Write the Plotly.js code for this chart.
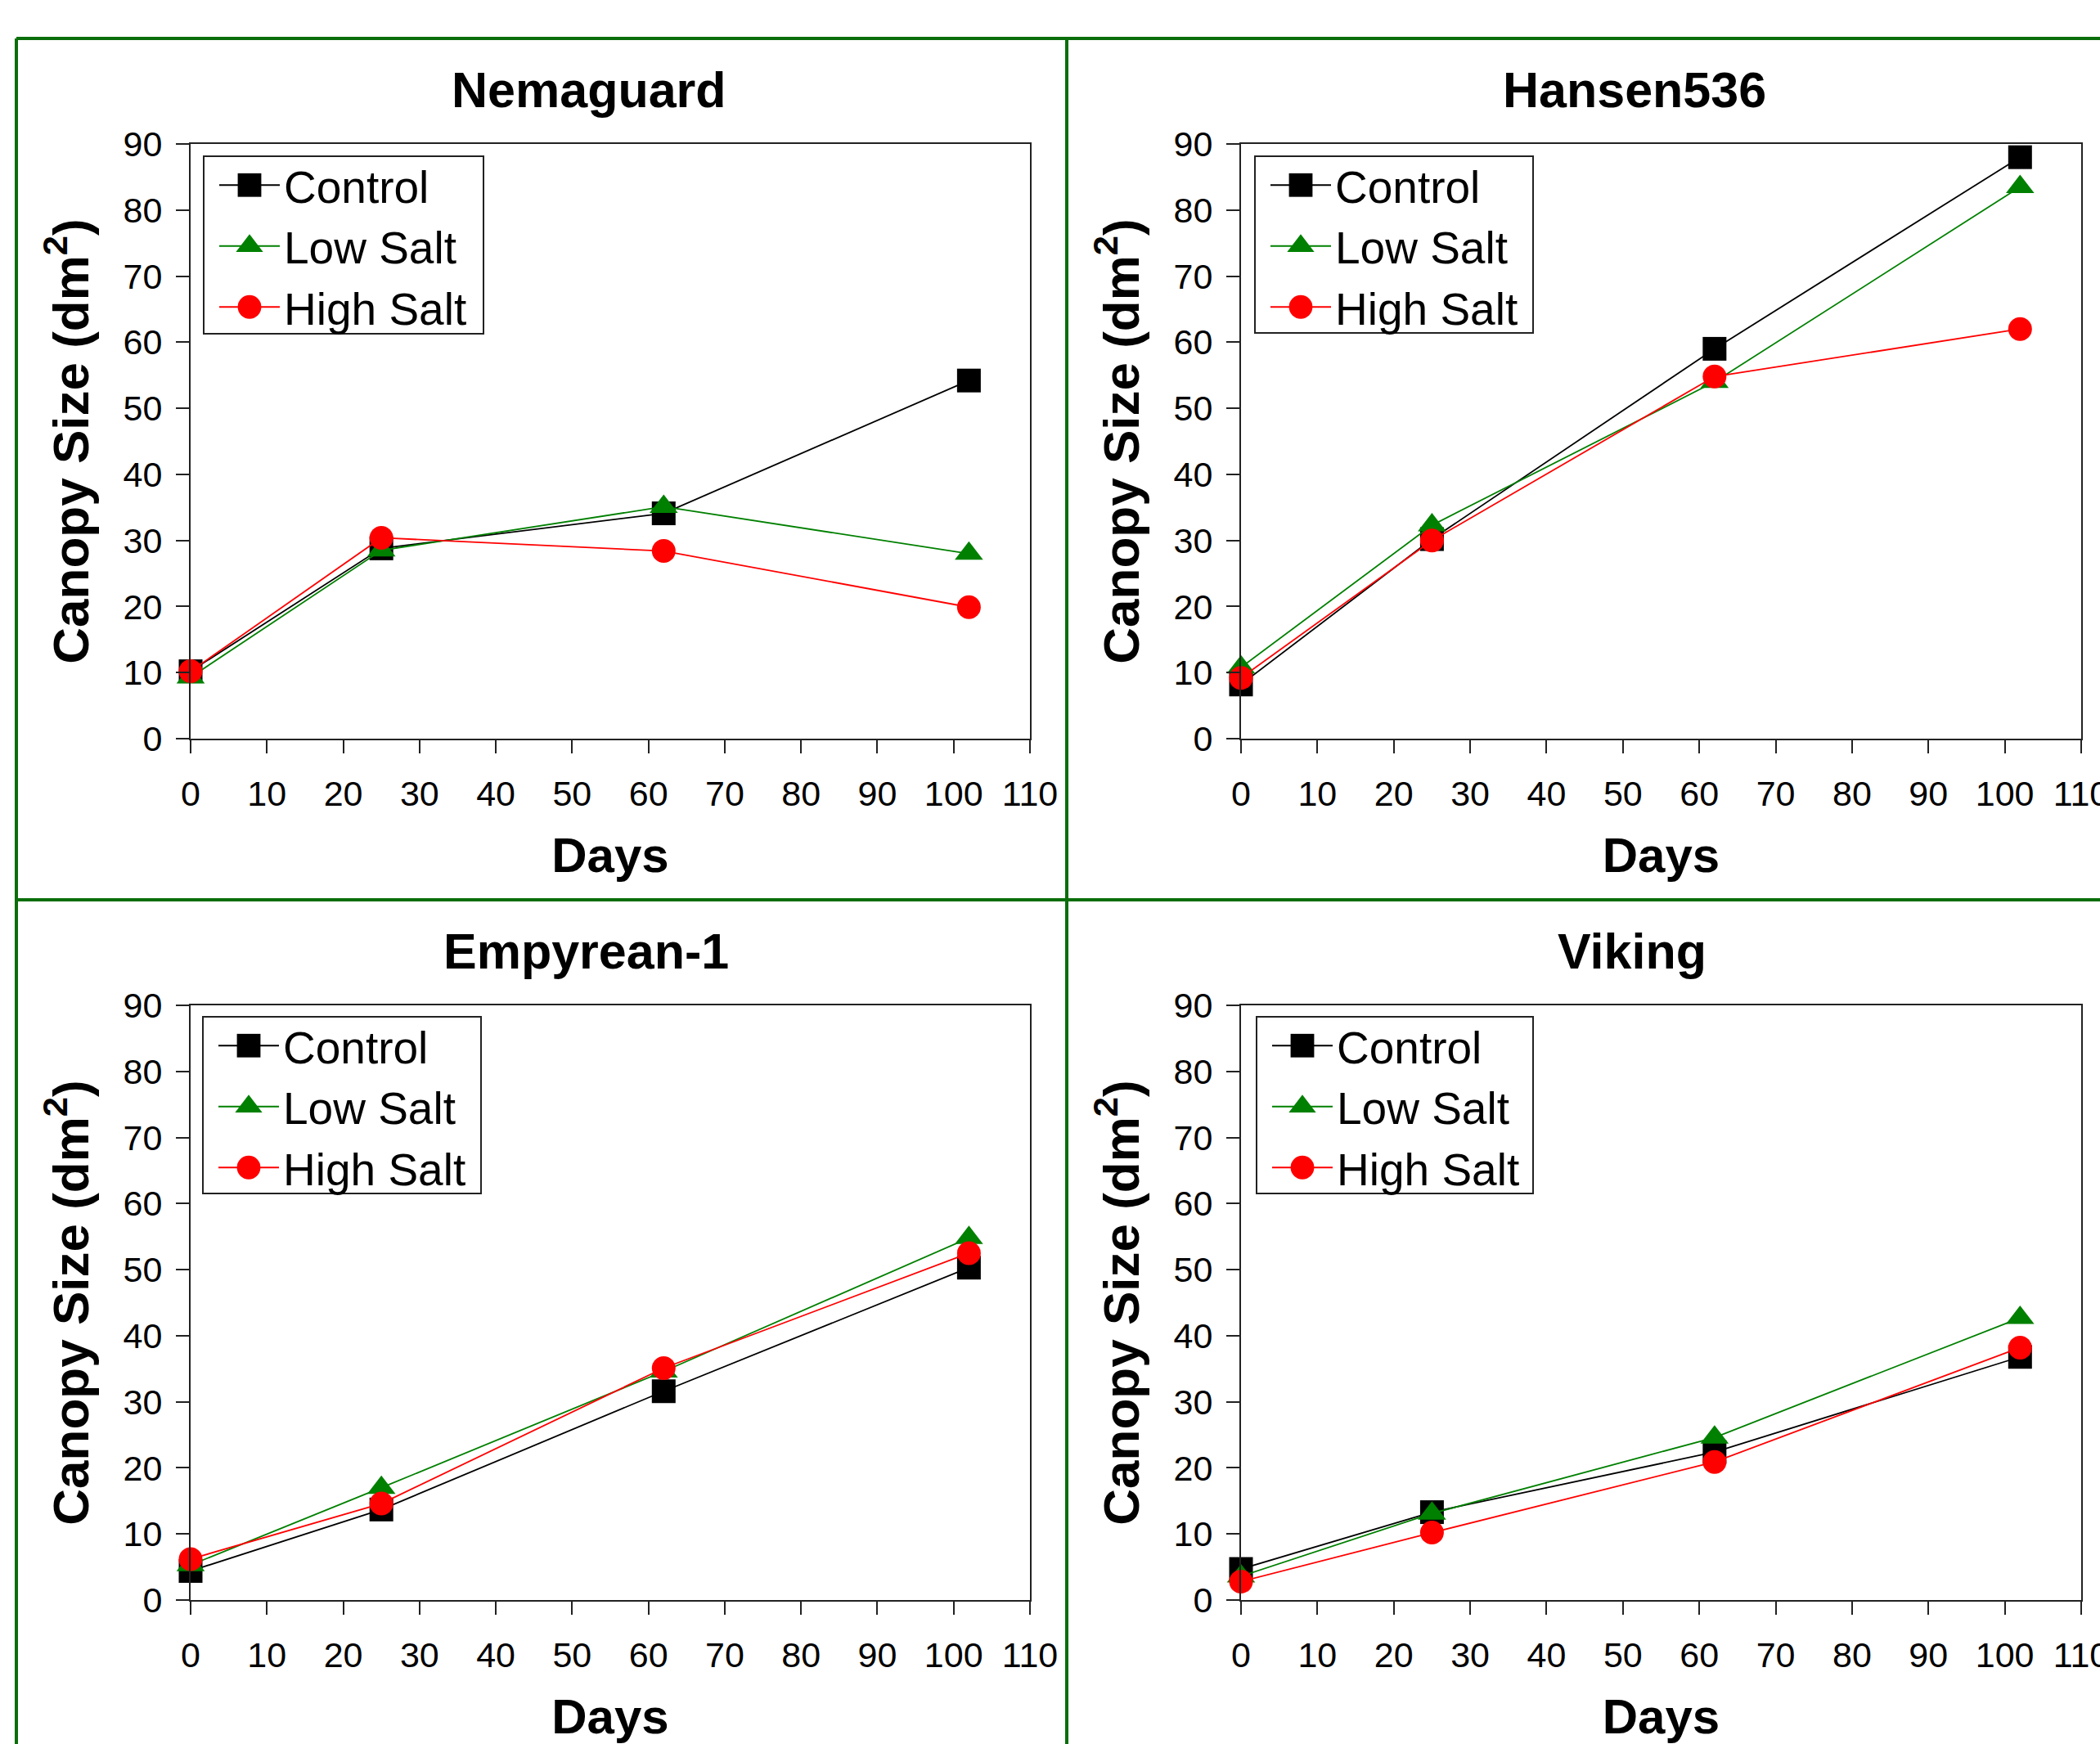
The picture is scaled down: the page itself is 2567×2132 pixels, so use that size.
<!DOCTYPE html>
<html>
<head>
<meta charset="utf-8">
<script src="https://cdn.plot.ly/plotly-3.0.1.min.js"></script>
<style>
html, body { margin: 0; padding: 0; background: #ffffff; }
#chart { width: 2567px; height: 2132px; }
</style>
</head>
<body>
<div id="chart"></div>
<script>
// ---------------- data ----------------
const days = [0, 25, 62, 102];
const panelTitles = ['Nemaguard', 'Hansen536', 'Empyrean-1', 'Viking'];
const seriesNames = ['Control', 'Low Salt', 'High Salt'];

const nemaguardControl  = [10.2, 28.8, 34.1, 54.2];
const nemaguardLowSalt  = [9.3, 28.5, 35.1, 28.0];
const nemaguardHighSalt = [10.2, 30.4, 28.4, 19.9];

const hansenControl  = [8.2, 30.2, 59.0, 88.0];
const hansenLowSalt  = [10.8, 32.3, 54.0, 83.5];
const hansenHighSalt = [9.2, 30.0, 54.8, 62.0];

const empyreanControl  = [4.4, 13.7, 31.6, 50.3];
const empyreanLowSalt  = [5.3, 17.0, 34.6, 54.8];
const empyreanHighSalt = [6.2, 14.6, 35.1, 52.5];

const vikingControl  = [4.7, 13.3, 22.4, 36.8];
const vikingLowSalt  = [3.6, 13.1, 24.6, 42.7];
const vikingHighSalt = [2.8, 10.2, 20.9, 38.2];

const xTickValues = [0, 10, 20, 30, 40, 50, 60, 70, 80, 90, 100, 110];
const yTickValues = [0, 10, 20, 30, 40, 50, 60, 70, 80, 90];
const xAxisTitle = 'Days';
const yAxisTitle = 'Canopy Size (dm<sup>2</sup>)';

// ---------------- styling / layout ----------------
const W = 2567, H = 2132;
const FONT = 'Liberation Sans, Arial, sans-serif';
const px = v => v / W;
const py = v => 1 - v / H;

const panelData = [
  [nemaguardControl, nemaguardLowSalt, nemaguardHighSalt],
  [hansenControl, hansenLowSalt, hansenHighSalt],
  [empyreanControl, empyreanLowSalt, empyreanHighSalt],
  [vikingControl, vikingLowSalt, vikingHighSalt]
];

const seriesStyle = [
  { color: '#000000', symbol: 'square', size: 29 },
  { color: '#008000', symbol: 'triangle-up', size: 30 },
  { color: '#ff0000', symbol: 'circle', size: 29 }
];

// plot-area pixel boxes [left, right, top, bottom]
const boxes = [
  [233, 1259, 176, 903],
  [1517, 2544, 176, 903],
  [233, 1259, 1229, 1956],
  [1517, 2544, 1229, 1956]
];
const titlePos = [[720, 110], [1998, 110], [716, 1163], [1995, 1163]];
// legend frame boxes [left, top, right, bottom]
const legendBoxes = [
  [249, 191, 591, 408],
  [1534, 191, 1874, 407],
  [248, 1243, 588, 1459],
  [1536, 1243, 1874, 1459]
];
// legend item anchor (left, top)
const legendPos = [[263, 184], [1548, 184], [262, 1236], [1550, 1236]];

const traces = [];
const layout = {
  width: W, height: H,
  margin: { l: 0, r: 0, t: 0, b: 0 },
  paper_bgcolor: '#ffffff',
  plot_bgcolor: '#ffffff',
  showlegend: true,
  font: { family: FONT, color: '#000000' },
  annotations: [],
  shapes: []
};

const frameColor = '#0a6e0a';
const frameLines = [
  [20, 47, W, 47],
  [20, 47, 20, H],
  [1304, 47, 1304, H],
  [20, 1100, W, 1100]
];
frameLines.forEach(f => {
  layout.shapes.push({
    type: 'line', xref: 'paper', yref: 'paper',
    x0: px(f[0]), y0: py(f[1]), x1: px(f[2]), y1: py(f[3]),
    line: { color: frameColor, width: 4 }
  });
});

panelTitles.forEach((title, i) => {
  const sfx = i === 0 ? '' : String(i + 1);
  const legendId = 'legend' + sfx;
  const b = boxes[i];

  panelData[i].forEach((vals, s) => {
    traces.push({
      type: 'scatter', mode: 'lines+markers',
      x: days, y: vals, name: seriesNames[s],
      xaxis: 'x' + sfx, yaxis: 'y' + sfx,
      legend: legendId,
      cliponaxis: false,
      line: { color: seriesStyle[s].color, width: 1.8 },
      marker: { color: seriesStyle[s].color, symbol: seriesStyle[s].symbol, size: seriesStyle[s].size, line: { width: 0 } }
    });
  });

  const common = {
    showgrid: false, zeroline: false,
    showline: true, mirror: true, linecolor: '#222222', linewidth: 2,
    ticks: 'outside', ticklen: 16, tickwidth: 2, tickcolor: '#222222',
    tickfont: { family: FONT, size: 43, color: '#000000' },
    tickmode: 'array', fixedrange: true,
    ticklabeloverflow: 'allow'
  };

  layout['xaxis' + sfx] = Object.assign({}, common, {
    domain: [px(b[0]), px(b[1])],
    anchor: 'y' + sfx,
    range: [0, 110],
    tickvals: xTickValues, ticktext: xTickValues.map(String),
    ticklabelstandoff: 12,
    title: { text: xAxisTitle, font: { family: FONT, size: 60, weight: 'bold', color: '#000000' }, standoff: 31 }
  });
  layout['yaxis' + sfx] = Object.assign({}, common, {
    domain: [py(b[3]), py(b[2])],
    anchor: 'x' + sfx,
    range: [0, 90],
    tickvals: yTickValues, ticktext: yTickValues.map(String),
    ticklabelstandoff: 8,
    title: { text: yAxisTitle, font: { family: FONT, size: 62, weight: 'bold', color: '#000000' }, standoff: 22 }
  });

  const lb = legendBoxes[i];
  layout.shapes.push({
    type: 'rect', xref: 'paper', yref: 'paper', layer: 'above',
    x0: px(lb[0]), y0: py(lb[1]), x1: px(lb[2]), y1: py(lb[3]),
    fillcolor: '#ffffff', line: { color: '#222222', width: 2 }
  });

  layout[legendId] = {
    x: px(legendPos[i][0]), y: py(legendPos[i][1]),
    xref: 'paper', yref: 'paper',
    xanchor: 'left', yanchor: 'top',
    bgcolor: 'rgba(0,0,0,0)', borderwidth: 0,
    font: { family: FONT, size: 55, color: '#000000' },
    itemwidth: 74, tracegroupgap: 0,
    itemclick: false, itemdoubleclick: false
  };

  layout.annotations.push({
    text: title, xref: 'paper', yref: 'paper',
    x: px(titlePos[i][0]), y: py(titlePos[i][1]),
    xanchor: 'center', yanchor: 'middle', showarrow: false,
    font: { family: FONT, size: 61, weight: 'bold', color: '#000000' }
  });
});

Plotly.newPlot('chart', traces, layout, { staticPlot: true, displayModeBar: false }).then(gd => {
  // Legend symbols are clamped to 16px by Plotly; enlarge them to the plotted marker size
  gd.querySelectorAll('.legendpoints path.scatterpts').forEach(p => {
    const t = p.getAttribute('transform') || '';
    p.setAttribute('transform', t + ' scale(1.8)');
  });
});
</script>
</body>
</html>
